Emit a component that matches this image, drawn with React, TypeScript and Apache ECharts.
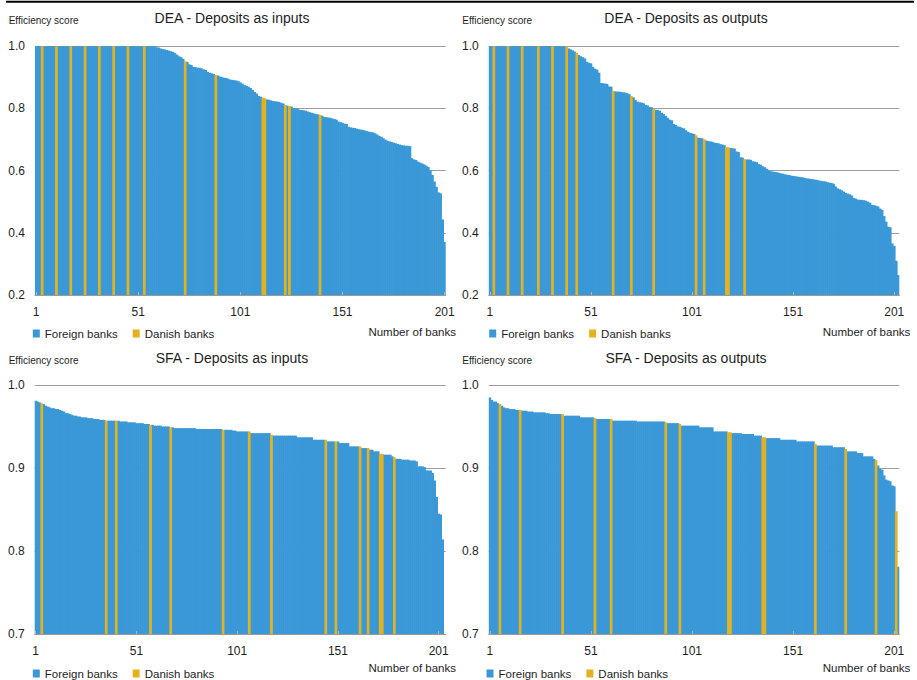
import React, { useEffect, useRef } from 'react';
import * as echarts from 'echarts';

// ---- Data (efficiency scores, banks ranked from most to least efficient) ----
const DEA_INPUTS = [
  1, 1, 1, 1, 1, 1, 1, 1, 1, 1,
  1, 1, 1, 1, 1, 1, 1, 1, 1, 1,
  1, 1, 1, 1, 1, 1, 1, 1, 1, 1,
  1, 1, 1, 1, 1, 1, 1, 1, 1, 1,
  1, 1, 1, 1, 1, 1, 1, 1, 1, 1,
  1, 1, 1, 1, 1, 1, 1, 1, 1, 0.997,
  0.996, 0.993, 0.991, 0.990, 0.988, 0.986, 0.984, 0.982, 0.978, 0.973,
  0.968, 0.965, 0.960, 0.952, 0.950, 0.942, 0.940, 0.934, 0.933, 0.931,
  0.931, 0.929, 0.926, 0.924, 0.918, 0.915, 0.913, 0.911, 0.908, 0.906,
  0.903, 0.901, 0.899, 0.898, 0.896, 0.893, 0.892, 0.891, 0.890, 0.888,
  0.884, 0.880, 0.876, 0.873, 0.870, 0.866, 0.860, 0.853, 0.848, 0.840,
  0.838, 0.835, 0.833, 0.829, 0.828, 0.826, 0.824, 0.823, 0.822, 0.821,
  0.818, 0.816, 0.811, 0.809, 0.808, 0.806, 0.801, 0.800, 0.799, 0.796,
  0.795, 0.794, 0.793, 0.790, 0.788, 0.786, 0.784, 0.782, 0.781, 0.779,
  0.777, 0.773, 0.772, 0.771, 0.770, 0.768, 0.766, 0.764, 0.758, 0.756,
  0.754, 0.751, 0.750, 0.741, 0.739, 0.738, 0.737, 0.735, 0.733, 0.732,
  0.731, 0.729, 0.727, 0.725, 0.724, 0.723, 0.720, 0.716, 0.712, 0.709,
  0.704, 0.700, 0.696, 0.694, 0.692, 0.690, 0.688, 0.686, 0.684, 0.682,
  0.681, 0.680, 0.680, 0.679, 0.640, 0.636, 0.634, 0.629, 0.626, 0.623,
  0.620, 0.616, 0.612, 0.600, 0.586, 0.565, 0.548, 0.530, 0.527, 0.443,
  0.371,
];
const DEA_INPUTS_DANISH = [4, 11, 18, 25, 32, 39, 46, 54, 74, 89, 112, 113, 123, 125, 140];

const DEA_OUTPUTS = [
  1, 1, 1, 1, 1, 1, 1, 1, 1, 1,
  1, 1, 1, 1, 1, 1, 1, 1, 1, 1,
  1, 1, 1, 1, 1, 1, 1, 1, 1, 1,
  1, 1, 1, 1, 1, 1, 1, 1, 1, 0.993,
  0.990, 0.987, 0.983, 0.979, 0.972, 0.968, 0.965, 0.961, 0.950, 0.947,
  0.945, 0.934, 0.928, 0.925, 0.915, 0.882, 0.881, 0.880, 0.879, 0.871,
  0.870, 0.857, 0.855, 0.854, 0.854, 0.853, 0.852, 0.851, 0.849, 0.846,
  0.840, 0.836, 0.827, 0.822, 0.820, 0.819, 0.817, 0.811, 0.810, 0.805,
  0.804, 0.798, 0.796, 0.795, 0.793, 0.786, 0.782, 0.776, 0.770, 0.764,
  0.762, 0.750, 0.747, 0.742, 0.741, 0.738, 0.736, 0.730, 0.725, 0.722,
  0.720, 0.718, 0.714, 0.706, 0.705, 0.704, 0.701, 0.697, 0.695, 0.694,
  0.693, 0.690, 0.689, 0.688, 0.685, 0.684, 0.682, 0.676, 0.675, 0.673,
  0.672, 0.671, 0.662, 0.660, 0.643, 0.642, 0.637, 0.636, 0.636, 0.635,
  0.630, 0.629, 0.627, 0.621, 0.619, 0.614, 0.611, 0.606, 0.601, 0.598,
  0.597, 0.596, 0.595, 0.593, 0.591, 0.590, 0.588, 0.587, 0.586, 0.584,
  0.583, 0.582, 0.581, 0.580, 0.579, 0.578, 0.576, 0.575, 0.574, 0.573,
  0.572, 0.571, 0.570, 0.568, 0.567, 0.566, 0.565, 0.563, 0.561, 0.560,
  0.558, 0.549, 0.543, 0.540, 0.537, 0.533, 0.528, 0.526, 0.524, 0.520,
  0.512, 0.510, 0.507, 0.506, 0.506, 0.505, 0.503, 0.500, 0.497, 0.490,
  0.489, 0.487, 0.485, 0.478, 0.474, 0.454, 0.436, 0.420, 0.418, 0.366,
  0.358, 0.310, 0.264,
];
const DEA_OUTPUTS_DANISH = [3, 10, 17, 25, 32, 39, 44, 62, 71, 82, 103, 107, 118, 119, 127];

const SFA_INPUTS = [
  0.981, 0.980, 0.979, 0.978, 0.977, 0.975, 0.974, 0.973, 0.972, 0.972,
  0.971, 0.971, 0.970, 0.969, 0.968, 0.966, 0.966, 0.965, 0.964, 0.963,
  0.963, 0.962, 0.962, 0.961, 0.961, 0.961, 0.960, 0.960, 0.960, 0.959,
  0.959, 0.959, 0.958, 0.958, 0.958, 0.957, 0.957, 0.957, 0.957, 0.957,
  0.957, 0.957, 0.956, 0.956, 0.956, 0.956, 0.955, 0.955, 0.955, 0.955,
  0.954, 0.954, 0.954, 0.954, 0.953, 0.953, 0.953, 0.952, 0.952, 0.951,
  0.951, 0.951, 0.951, 0.950, 0.950, 0.950, 0.950, 0.949, 0.949, 0.948,
  0.948, 0.948, 0.948, 0.948, 0.948, 0.948, 0.948, 0.948, 0.948, 0.948,
  0.947, 0.947, 0.947, 0.947, 0.947, 0.947, 0.947, 0.947, 0.947, 0.947,
  0.947, 0.947, 0.947, 0.946, 0.946, 0.946, 0.946, 0.946, 0.945, 0.945,
  0.944, 0.944, 0.944, 0.944, 0.944, 0.944, 0.944, 0.942, 0.942, 0.942,
  0.942, 0.942, 0.942, 0.942, 0.942, 0.942, 0.942, 0.940, 0.939, 0.939,
  0.939, 0.939, 0.939, 0.939, 0.939, 0.939, 0.939, 0.939, 0.939, 0.939,
  0.937, 0.937, 0.937, 0.937, 0.937, 0.937, 0.937, 0.937, 0.934, 0.934,
  0.934, 0.934, 0.934, 0.934, 0.934, 0.932, 0.932, 0.932, 0.932, 0.932,
  0.932, 0.930, 0.930, 0.930, 0.930, 0.930, 0.926, 0.926, 0.926, 0.926,
  0.926, 0.926, 0.924, 0.924, 0.924, 0.924, 0.922, 0.922, 0.920, 0.920,
  0.920, 0.917, 0.917, 0.916, 0.916, 0.916, 0.916, 0.914, 0.913, 0.911,
  0.911, 0.911, 0.910, 0.910, 0.910, 0.910, 0.909, 0.909, 0.909, 0.908,
  0.902, 0.902, 0.902, 0.901, 0.897, 0.897, 0.897, 0.894, 0.885, 0.865,
  0.845, 0.844, 0.814,
];
const SFA_INPUTS_DANISH = [4, 36, 41, 58, 68, 94, 107, 118, 145, 150, 162, 166, 172, 173, 179];

const SFA_OUTPUTS = [
  0.985, 0.982, 0.980, 0.980, 0.978, 0.977, 0.975, 0.973, 0.972, 0.972,
  0.971, 0.971, 0.971, 0.970, 0.970, 0.970, 0.969, 0.969, 0.969, 0.968,
  0.968, 0.968, 0.967, 0.967, 0.967, 0.967, 0.967, 0.967, 0.966, 0.966,
  0.965, 0.965, 0.965, 0.965, 0.965, 0.965, 0.965, 0.963, 0.963, 0.963,
  0.963, 0.963, 0.963, 0.963, 0.963, 0.961, 0.961, 0.961, 0.961, 0.961,
  0.961, 0.961, 0.960, 0.959, 0.959, 0.959, 0.959, 0.959, 0.959, 0.959,
  0.959, 0.957, 0.957, 0.957, 0.957, 0.957, 0.957, 0.957, 0.957, 0.957,
  0.957, 0.957, 0.957, 0.956, 0.956, 0.956, 0.956, 0.956, 0.956, 0.956,
  0.956, 0.956, 0.956, 0.956, 0.956, 0.956, 0.956, 0.955, 0.954, 0.954,
  0.954, 0.954, 0.954, 0.954, 0.953, 0.951, 0.951, 0.951, 0.951, 0.951,
  0.951, 0.951, 0.951, 0.951, 0.949, 0.949, 0.949, 0.949, 0.949, 0.949,
  0.949, 0.944, 0.944, 0.944, 0.944, 0.944, 0.944, 0.944, 0.943, 0.943,
  0.942, 0.942, 0.942, 0.942, 0.942, 0.941, 0.941, 0.941, 0.941, 0.941,
  0.941, 0.939, 0.939, 0.939, 0.939, 0.937, 0.937, 0.936, 0.936, 0.936,
  0.936, 0.936, 0.936, 0.936, 0.934, 0.934, 0.934, 0.934, 0.934, 0.934,
  0.934, 0.934, 0.932, 0.932, 0.932, 0.932, 0.932, 0.932, 0.932, 0.932,
  0.932, 0.929, 0.927, 0.927, 0.927, 0.927, 0.927, 0.927, 0.927, 0.927,
  0.925, 0.925, 0.925, 0.925, 0.925, 0.925, 0.923, 0.920, 0.920, 0.920,
  0.920, 0.920, 0.918, 0.918, 0.918, 0.914, 0.914, 0.914, 0.914, 0.914,
  0.911, 0.9095, 0.903, 0.899, 0.898, 0.891, 0.886, 0.885, 0.884, 0.879,
  0.878, 0.848, 0.781,
];
const SFA_OUTPUTS_DANISH = [6, 16, 37, 53, 61, 88, 95, 119, 120, 136, 137, 162, 177, 192, 202];

// number of bank slots on each panel's x axis
const CATEGORY_COUNTS = [201, 203, 204, 203];
const X_TICK_LABELS = ['1', '51', '101', '151', '201'];
const PANEL_TITLES = [
  'DEA - Deposits as inputs',
  'DEA - Deposits as outputs',
  'SFA - Deposits as inputs',
  'SFA - Deposits as outputs',
];
const SERIES_NAMES = ['Foreign banks', 'Danish banks'];
const Y_RANGES = [
  [0.2, 1.0, 0.2],
  [0.2, 1.0, 0.2],
  [0.7, 1.0, 0.1],
  [0.7, 1.0, 0.1],
];

const VALUES = [DEA_INPUTS, DEA_OUTPUTS, SFA_INPUTS, SFA_OUTPUTS];
const DANISH = [DEA_INPUTS_DANISH, DEA_OUTPUTS_DANISH, SFA_INPUTS_DANISH, SFA_OUTPUTS_DANISH];

// ---- Layout / style ----
const BLUE = '#3A98D7';
const GOLD = '#E4B11F';
const FONT = "'Liberation Sans', Arial, sans-serif";
const TEXT = '#1e1e1e';
const BAR_WIDTH = 2.7; // slightly wider than the band so neighbouring bars leave no seams

const GRIDS = [
  { left: 35, top: 46.3, width: 410.7, height: 248.7 },
  { left: 488.8, top: 46.3, width: 410.5, height: 248.7 },
  { left: 34.7, top: 385, width: 411, height: 249 },
  { left: 488.8, top: 385, width: 410.5, height: 249 },
];
const PANEL_TEXT = [
  { titleX: 232, titleY: 18.3, yNameX: 8.7, yNameY: 20.7, xNameX: 456, xNameY: 332.3, legendLeft: 32.8, legendTop: 327.5 },
  { titleX: 686, titleY: 18.3, yNameX: 462.3, yNameY: 20.7, xNameX: 910.3, xNameY: 332.3, legendLeft: 489.2, legendTop: 327.5 },
  { titleX: 232, titleY: 357.7, yNameX: 8.7, yNameY: 360, xNameX: 456, xNameY: 668.3, legendLeft: 32.8, legendTop: 667.5 },
  { titleX: 686, titleY: 357.7, yNameX: 462.3, yNameY: 360, xNameX: 910.3, xNameY: 668.3, legendLeft: 486.5, legendTop: 667.5 },
];

function buildOption() {
  const grid: any[] = [];
  const xAxis: any[] = [];
  const yAxis: any[] = [];
  const series: any[] = [];
  const legend: any[] = [];
  const graphic: any[] = [];

  const tickFilter = (_i: number, value: string) => X_TICK_LABELS.includes(value);

  graphic.push({
    type: 'line',
    shape: { x1: 6, y1: 1.8, x2: 914, y2: 1.8 },
    style: { stroke: '#000', lineWidth: 2 },
    silent: true,
  });

  for (let p = 0; p < 4; p++) {
    const g = GRIDS[p];
    const t = PANEL_TEXT[p];
    const cats = Array.from({ length: CATEGORY_COUNTS[p] }, (_, i) => String(i + 1));
    const vals = VALUES[p];
    const dan = DANISH[p];
    const [ymin, ymax, yint] = Y_RANGES[p];

    grid.push({ left: g.left, top: g.top, width: g.width, height: g.height, containLabel: false });

    xAxis.push({
      type: 'category',
      gridIndex: p,
      data: cats,
      boundaryGap: true,
      z: 4,
      axisLine: { show: true, lineStyle: { color: '#9a9a9a', width: 1 } },
      axisTick: {
        show: true,
        inside: true,
        length: 3,
        alignWithLabel: true,
        interval: tickFilter,
        lineStyle: { color: '#b5b5b5', width: 1 },
      },
      axisLabel: {
        interval: tickFilter,
        margin: 11,
        fontSize: 12,
        fontFamily: FONT,
        color: TEXT,
      },
      splitLine: { show: false },
    });

    yAxis.push({
      type: 'value',
      gridIndex: p,
      min: ymin,
      max: ymax,
      interval: yint,
      axisLine: { show: false },
      axisTick: { show: false },
      splitLine: { show: true, lineStyle: { color: '#9d9d9d', width: 1 } },
      axisLabel: {
        margin: 10,
        fontSize: 12,
        fontFamily: FONT,
        color: TEXT,
        formatter: (v: number) => v.toFixed(1),
      },
    });

    const foreignData = vals.map((v, i) => (dan.includes(i + 1) ? '-' : v));
    const danishData = vals.map((v, i) => (dan.includes(i + 1) ? v : '-'));

    series.push({
      name: SERIES_NAMES[0],
      type: 'bar',
      xAxisIndex: p,
      yAxisIndex: p,
      data: foreignData,
      barGap: '-100%',
      barWidth: BAR_WIDTH,
      itemStyle: { color: BLUE },
      silent: true,
    });
    series.push({
      name: SERIES_NAMES[1],
      type: 'bar',
      xAxisIndex: p,
      yAxisIndex: p,
      data: danishData,
      barGap: '-100%',
      barWidth: BAR_WIDTH,
      itemStyle: { color: GOLD },
      silent: true,
    });

    legend.push({
      data: SERIES_NAMES,
      left: t.legendLeft,
      top: t.legendTop,
      padding: 0,
      itemGap: 15,
      itemWidth: 7,
      itemHeight: 8,
      icon: 'rect',
      selectedMode: false,
      textStyle: { fontSize: 11.5, fontFamily: FONT, color: TEXT },
    });

    graphic.push({
      type: 'text',
      x: t.titleX,
      y: t.titleY,
      silent: true,
      style: {
        text: PANEL_TITLES[p],
        fontSize: 14,
        fontFamily: FONT,
        fill: TEXT,
        textAlign: 'center',
        textVerticalAlign: 'middle',
      },
    });
    graphic.push({
      type: 'text',
      x: t.yNameX,
      y: t.yNameY,
      silent: true,
      style: {
        text: 'Efficiency score',
        fontSize: 10,
        fontFamily: FONT,
        fill: TEXT,
        textAlign: 'left',
        textVerticalAlign: 'middle',
      },
    });
    graphic.push({
      type: 'text',
      x: t.xNameX,
      y: t.xNameY,
      silent: true,
      style: {
        text: 'Number of banks',
        fontSize: 11.5,
        fontFamily: FONT,
        fill: TEXT,
        textAlign: 'right',
        textVerticalAlign: 'middle',
      },
    });
  }

  return {
    animation: false,
    backgroundColor: '#ffffff',
    grid,
    xAxis,
    yAxis,
    series,
    legend,
    graphic,
  };
}

export default function App() {
  const ref = useRef<HTMLDivElement>(null);
  useEffect(() => {
    if (!ref.current) return;
    const chart = echarts.init(ref.current, undefined, { renderer: 'svg' });
    chart.setOption(buildOption());
    return () => chart.dispose();
  }, []);
  return (
    <div
      ref={ref}
      style={{ position: 'absolute', left: 0, top: 0, width: 917, height: 680, background: '#fff' }}
    />
  );
}
